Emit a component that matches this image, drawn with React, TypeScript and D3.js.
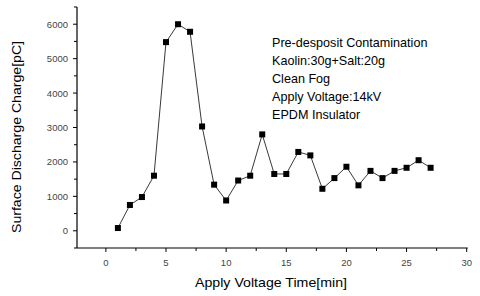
import React, { useRef, useEffect } from 'react';
import * as d3 from 'd3';

const times = [1, 2, 3, 4, 5, 6, 7, 8, 9, 10, 11, 12, 13, 14, 15, 16, 17, 18, 19, 20, 21, 22, 23, 24, 25, 26, 27];
const charges = [80, 750, 980, 1600, 5480, 6000, 5780, 3030, 1340, 880, 1460, 1600, 2800, 1650, 1650, 2290, 2190, 1220, 1530, 1860, 1320, 1740, 1530, 1740, 1830, 2050, 1830];
const xTicks = [0, 5, 10, 15, 20, 25, 30];
const yTicks = [0, 1000, 2000, 3000, 4000, 5000, 6000];
const notes = ['Pre-desposit Contamination', 'Kaolin:30g+Salt:20g', 'Clean Fog', 'Apply Voltage:14kV', 'EPDM Insulator'];

const App = () => {
    const ref = useRef<SVGSVGElement>(null);

    useEffect(() => {
        const svg = d3.select(ref.current);
        svg.selectAll('*').remove();
        const font = 'Liberation Sans, Arial, sans-serif';

        const x = d3.scaleLinear().domain([-2.4, 30]).range([77, 466.7]);
        const y = d3.scaleLinear().domain([-500, 6500]).range([248, 7]);

        // x axis
        const gx = svg.append('g').attr('transform', `translate(0,${y(-500)})`);
        gx.append('line').attr('x1', x(-2.4)).attr('x2', x(30) + 1).attr('stroke', '#000').attr('stroke-width', 1.2);
        gx.selectAll('line.minor').data(d3.range(-2.5, 30.1, 2.5).filter(v => v >= -2.4))
            .enter().append('line').attr('class', 'minor')
            .attr('x1', d => x(d)).attr('x2', d => x(d))
            .attr('y1', 0).attr('y2', d => (d % 5 === 0 ? 4 : 3))
            .attr('stroke', '#000');
        gx.selectAll('text').data(xTicks).enter().append('text')
            .attr('x', d => x(d)).attr('y', 18)
            .attr('text-anchor', 'middle')
            .attr('font-family', font).attr('font-size', 9.5).attr('fill', '#444')
            .text(d => d);

        // y axis
        const gy = svg.append('g').attr('transform', `translate(${x(-2.4)},0)`);
        gy.append('line').attr('y1', y(-500)).attr('y2', y(6500)).attr('stroke', '#000').attr('stroke-width', 1.2);
        gy.selectAll('line.tick').data(d3.range(-500, 6501, 500))
            .enter().append('line').attr('class', 'tick')
            .attr('y1', d => y(d)).attr('y2', d => y(d))
            .attr('x1', 0).attr('x2', d => (d % 1000 === 0 ? -4 : -3))
            .attr('stroke', '#000');
        gy.selectAll('text').data(yTicks).enter().append('text')
            .attr('x', -9).attr('y', d => y(d) + 3.5)
            .attr('text-anchor', 'end')
            .attr('font-family', font).attr('font-size', 9.5).attr('fill', '#444')
            .text(d => d);

        // axis titles
        svg.append('text')
            .attr('x', 271).attr('y', 286.5)
            .attr('text-anchor', 'middle')
            .attr('font-family', font).attr('font-size', 13.5)
            .attr('textLength', 152).attr('lengthAdjust', 'spacingAndGlyphs')
            .text('Apply Voltage Time[min]');
        svg.append('text')
            .attr('transform', `translate(21,137) rotate(-90)`)
            .attr('text-anchor', 'middle')
            .attr('font-family', font).attr('font-size', 13)
            .attr('textLength', 192).attr('lengthAdjust', 'spacingAndGlyphs')
            .text('Surface Discharge Charge[pC]');

        // series
        const pts = times.map((t, i) => [t, charges[i]] as [number, number]);
        const line = d3.line<[number, number]>().x(d => x(d[0])).y(d => y(d[1]));
        svg.append('path').datum(pts)
            .attr('d', line)
            .attr('fill', 'none').attr('stroke', '#222').attr('stroke-width', 0.9);
        svg.selectAll('rect.pt').data(pts).enter().append('rect')
            .attr('class', 'pt')
            .attr('x', d => x(d[0]) - 3).attr('y', d => y(d[1]) - 3)
            .attr('width', 6).attr('height', 6)
            .attr('fill', '#000');

        // annotation
        svg.append('g').selectAll('text').data(notes).enter().append('text')
            .attr('x', 272).attr('y', (d, i) => 47 + i * 17.9)
            .attr('font-family', font).attr('font-size', 12.6)
            .text(d => d);
    }, []);

    return (
        <svg ref={ref} width="480" height="296" style={{ position: 'absolute', left: 0, top: 0, background: '#fff' }}></svg>
    );
};

export default App;
